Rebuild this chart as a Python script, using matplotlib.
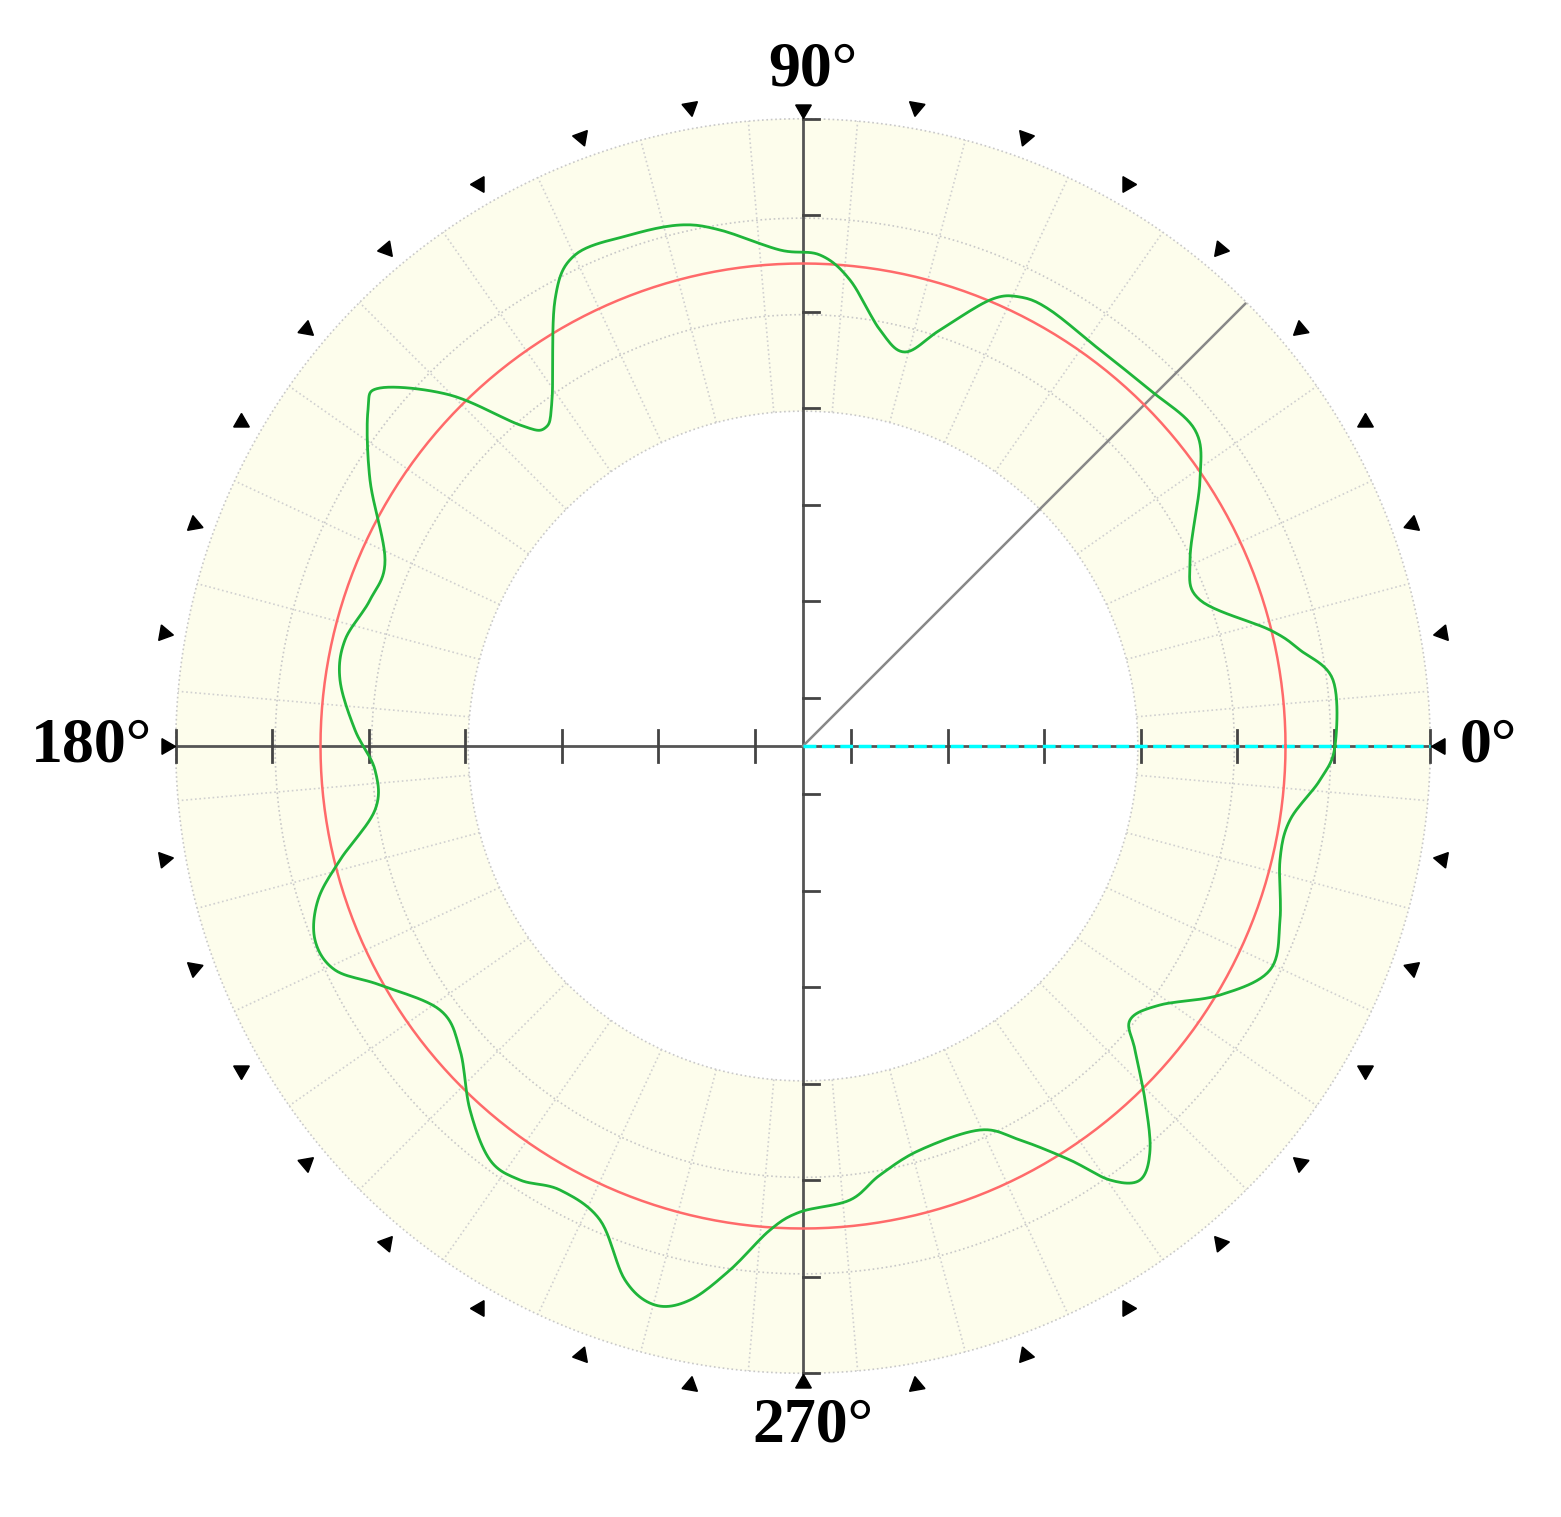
import numpy as np
import matplotlib.pyplot as plt

# reference circle radius and ring limits (data units)
ref_radius = 5.0
ring_inner, ring_outer = 3.47, 6.5
grid_circles = [3.47, 4.47, 5.47, 6.5]
axis_ticks = [0.5, 1.5, 2.5, 3.5, 4.5, 5.5, 6.5]
marker_angles = list(range(0, 360, 10))
line_angle = 45

# measured profile, traced in picture pixels (centre 803,746; 96.5 px per unit)
trace_px_x = [1335, 1333, 1300, 1270, 1200, 1190, 1200, 1195, 1150, 1100, 1050, 1020, 990, 940, 905, 880,
              850, 820, 780, 720, 680, 630, 575, 555, 552, 545, 520, 450, 380, 368, 370, 385, 370, 345,
              340, 355, 375, 375, 340, 318, 315, 335, 380, 440, 460, 470, 490, 520, 560, 600, 625, 655,
              690, 730, 770, 800, 850, 880, 920, 980, 1020, 1070, 1110, 1140, 1150, 1145, 1135, 1130,
              1160, 1220, 1270, 1280, 1280, 1290, 1320]
trace_px_y = [746, 680, 650, 630, 600, 560, 480, 430, 390, 350, 310, 297, 300, 330, 352, 330,
              280, 255, 250, 230, 225, 235, 255, 300, 400, 428, 425, 395, 388, 410, 480, 560, 600, 640,
              680, 730, 770, 810, 860, 900, 940, 970, 985, 1010, 1050, 1110, 1160, 1180, 1190, 1220, 1280, 1305,
              1300, 1270, 1230, 1212, 1200, 1175, 1150, 1130, 1140, 1160, 1180, 1180, 1150, 1100, 1050, 1020,
              1005, 995, 970, 920, 860, 820, 780]


def catmull_closed(x, y, n=12):
    x = np.asarray(x, float)
    y = np.asarray(y, float)
    out_x, out_y = [], []
    m = len(x)
    t = np.linspace(0, 1, n, endpoint=False)
    for i in range(m):
        p0, p1, p2, p3 = [(x[(i + k) % m], y[(i + k) % m]) for k in (-1, 0, 1, 2)]
        for c, arr in ((0, out_x), (1, out_y)):
            a0, a1, a2, a3 = p0[c], p1[c], p2[c], p3[c]
            arr.extend(0.5 * (2 * a1 + (-a0 + a2) * t + (2 * a0 - 5 * a1 + 4 * a2 - a3) * t ** 2
                              + (-a0 + 3 * a1 - 3 * a2 + a3) * t ** 3))
    out_x.append(out_x[0])
    out_y.append(out_y[0])
    return np.array(out_x), np.array(out_y)


def main():
    scale = 96.5
    cx, cy = 803, 746
    fig = plt.figure(figsize=(15.61, 15.17), dpi=100)
    ax = fig.add_axes([0, 0, 1, 1])
    ax.set_xlim(-cx / scale, (1561 - cx) / scale)
    ax.set_ylim(-(1517 - cy) / scale, cy / scale)
    ax.axis('off')

    th = np.linspace(0, 2 * np.pi, 721)
    # ring background
    ax.fill(np.concatenate([ring_outer * np.cos(th), ring_inner * np.cos(th[::-1])]),
            np.concatenate([ring_outer * np.sin(th), ring_inner * np.sin(th[::-1])]),
            color='#fdfdec', lw=0, zorder=0)
    for r in grid_circles:
        ax.plot(r * np.cos(th), r * np.sin(th), ls=':', color='#c8c8c8', lw=1.2, zorder=1)
    for a in np.deg2rad(np.arange(5, 360, 10)):
        ax.plot([ring_inner * np.cos(a), ring_outer * np.cos(a)],
                [ring_inner * np.sin(a), ring_outer * np.sin(a)], ls=':', color='#d0d0d0', lw=1.2, zorder=1)

    # cross axes with ticks
    ax.plot([-ring_outer, ring_outer], [0, 0], color='#555555', lw=2, zorder=3)
    ax.plot([0, 0], [-ring_outer, ring_outer], color='#555555', lw=2, zorder=3)
    for t in axis_ticks:
        for s in (-1, 1):
            ax.plot([s * t, s * t], [-0.17, 0.17], color='#444444', lw=2, zorder=3)
            ax.plot([0, 0.17], [s * t, s * t], color='#444444', lw=2, zorder=3)

    a = np.deg2rad(line_angle)
    ax.plot([0, 6.48 * np.cos(a)], [0, 6.48 * np.sin(a)], color='#888888', lw=1.8, zorder=3)
    ax.plot([0, ring_outer], [0, 0], color='cyan', ls='--', lw=2.5, zorder=4)

    ax.plot(ref_radius * np.cos(th), ref_radius * np.sin(th), color='#ff6a6a', lw=1.8, zorder=5)

    gx, gy = catmull_closed((np.array(trace_px_x) - cx) / scale, (cy - np.array(trace_px_y)) / scale)
    ax.plot(gx, gy, color='#1fb53a', lw=2, zorder=6)

    # inward-pointing markers
    for d in marker_angles:
        r = 6.72 if d % 90 else 6.6
        ar = np.deg2rad(d)
        ax.plot(r * np.cos(ar), r * np.sin(ar), marker=(3, 0, d + 90), color='black', ms=13, zorder=7)

    font = dict(family='Liberation Serif', fontsize=46, fontweight='bold')
    ax.text(6.8, 0, '0°', ha='left', va='center', **font)
    ax.text(-6.75, 0, '180°', ha='right', va='center', **font)
    ax.text(0.1, 7.0, '90°', ha='center', va='center', **font)
    ax.text(0.1, -7.05, '270°', ha='center', va='center', **font)

    fig.savefig('out.png', dpi=100)


if __name__ == '__main__':
    main()
